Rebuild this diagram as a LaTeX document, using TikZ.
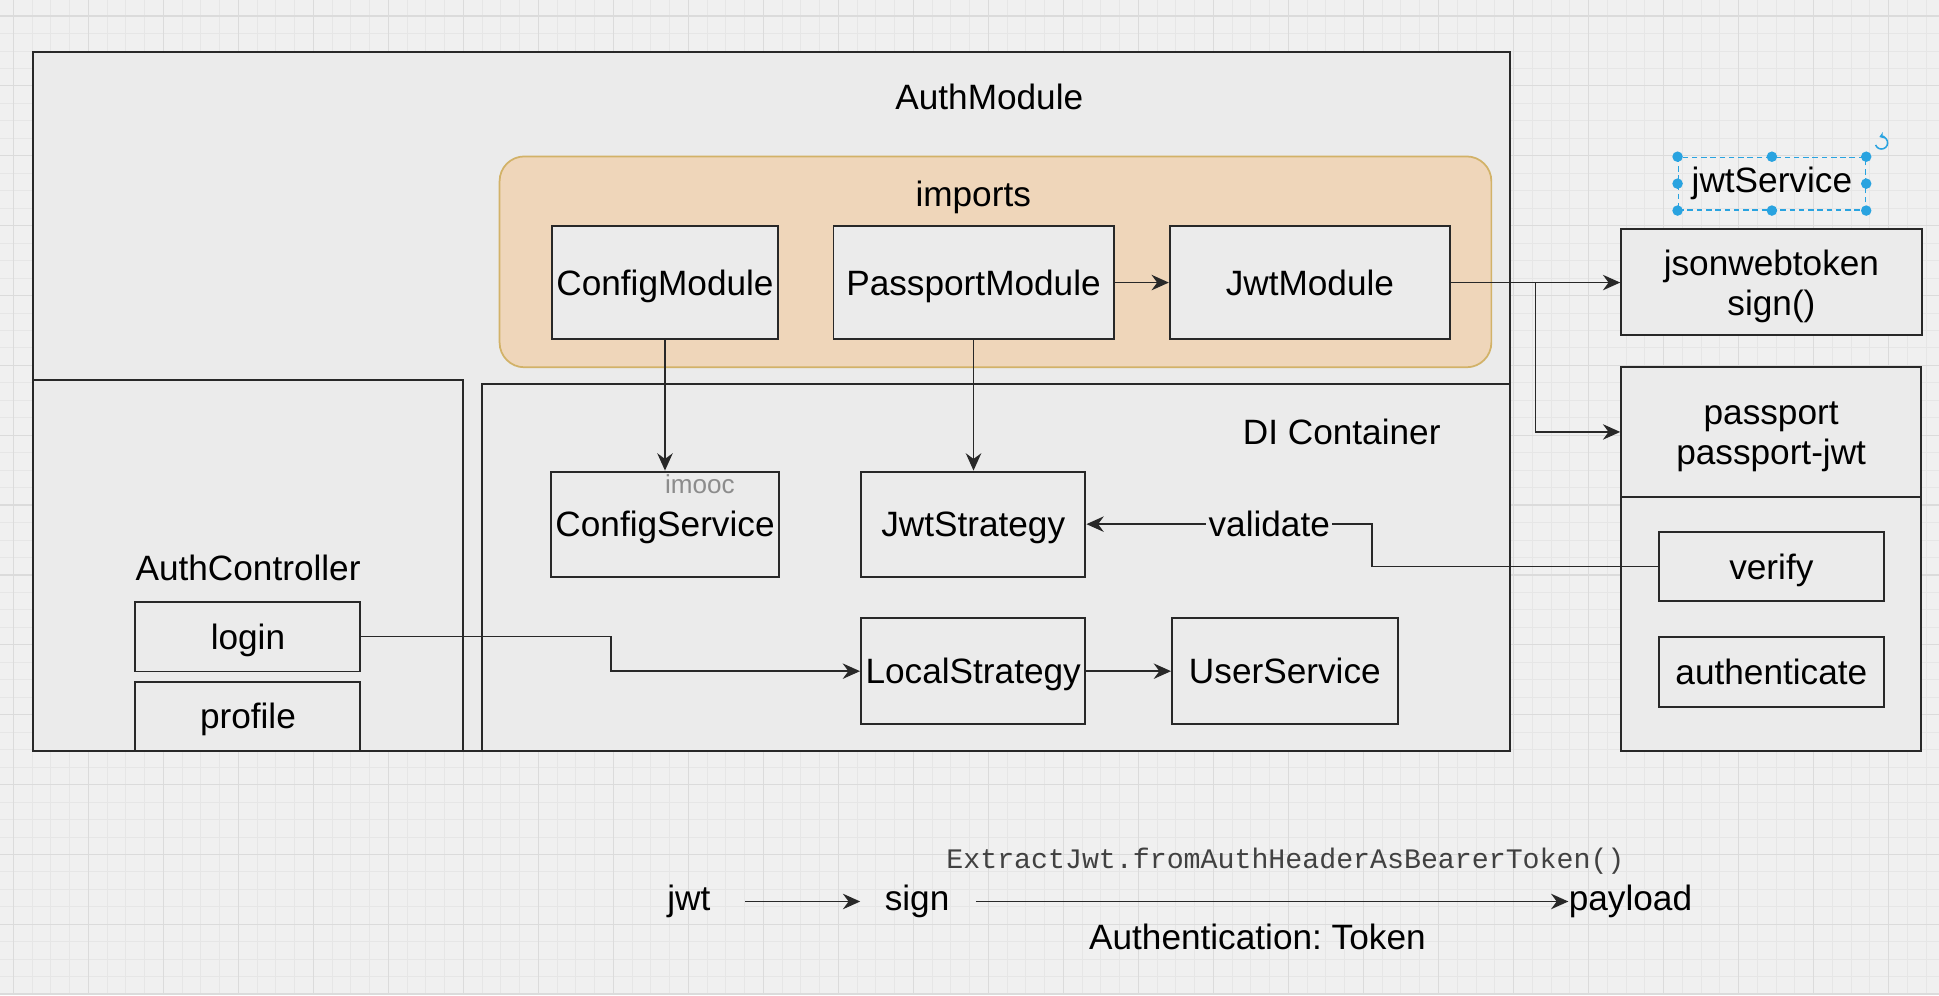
\documentclass[tikz,border=0pt]{standalone}
\usepackage{fontspec}
\setmainfont{Liberation Sans}
\setmonofont{Liberation Mono}
\usepackage{xcolor}
\usepackage{tikz}
\usetikzlibrary{arrows.meta,positioning,calc}
\frenchspacing
\definecolor{inkdark}{RGB}{40,40,40}
\definecolor{paper}{RGB}{240,240,240}
\definecolor{boxfill}{RGB}{235,235,235}
\definecolor{gridminor}{RGB}{230,230,230}
\definecolor{gridmajor}{RGB}{219,219,219}
\definecolor{importfill}{RGB}{239,214,186}
\definecolor{importline}{RGB}{210,178,104}
\definecolor{selblue}{RGB}{41,163,224}
\definecolor{wmgray}{RGB}{140,140,140}
\definecolor{codegray}{RGB}{65,65,65}
\newcommand{\dfont}{\fontsize{16.2pt}{18.2pt}\selectfont}
\tikzset{
  framebox/.style={rectangle, draw=inkdark, line width=0.9pt, fill=boxfill},
  modbox/.style={framebox, align=center, font=\dfont, inner sep=2pt,
                 execute at begin node={\rule{0pt}{0.93em}},
                 execute at end node={\rule[-0.21em]{0pt}{0.21em}}},
  twoline/.style={font=\dfont, align=center, inner sep=0pt, yshift=-0.8mm},
  importsbox/.style={rectangle, rounded corners=4mm, draw=importline,
                     fill=importfill, line width=0.8pt},
  seldash/.style={rectangle, draw=selblue, line width=0.6pt,
                  dash pattern=on 0.9mm off 0.6mm, font=\dfont, inner sep=0pt},
  arr/.style={-{Stealth[length=2.8mm,width=2.5mm]}, line width=0.8pt, draw=inkdark},
  lbl/.style={font=\dfont, inner sep=1pt},
  edgelbl/.style={lbl, fill=boxfill},
  flowtxt/.style={font=\dfont, inner sep=0pt, text height=0.85em, text depth=0pt},
  codetxt/.style={font=\ttfamily\fontsize{13pt}{15pt}\selectfont, text=codegray, inner sep=0pt},
  gminor/.style={draw=gridminor, line width=0.35pt},
  gmajor/.style={draw=gridmajor, line width=0.6pt},
}

\begin{document}
\begin{tikzpicture}[x=0.2mm, y=-0.2mm]
  \useasboundingbox (0,0) rectangle (1568,805);
  % canvas with grid
  \fill[paper] (0,0) rectangle (1568,805);
  \foreach \i in {0,...,103} \draw[gminor] ({10.8+15.1625*\i},0) -- ({10.8+15.1625*\i},805);
  \foreach \j in {0,...,56} \draw[gminor] (0,{12.9+14.125*\j}) -- (1568,{12.9+14.125*\j});
  \foreach \i in {0,...,25} \draw[gmajor] ({10.8+60.65*\i},0) -- ({10.8+60.65*\i},805);
  \foreach \j in {0,...,14} \draw[gmajor] (0,{12.9+56.5*\j}) -- (1568,{12.9+56.5*\j});

  % AuthModule
  \node[framebox, minimum width=238.9mm, minimum height=113mm] (authmod) at (623.75,324.5) {};
  \node[lbl] (authtitle) at (800,78) {AuthModule};

  \node[framebox, minimum width=69.6mm, minimum height=60mm] (authctrl) at (200.5,457) {};
  \node[lbl] (ctrltitle) at (200.6,459) {AuthController};
  \node[modbox, minimum width=36.4mm, minimum height=11.3mm] (login) at (200.5,514.75) {login};
  \node[modbox, minimum width=36.4mm, minimum height=11.14mm] (profile) at (200.5,579.15) {profile};

  \node[framebox, minimum width=166.3mm, minimum height=59.3mm] (dic) at (805.25,458.75) {};
  \node[lbl] (dititle) at (1085,349) {DI Container};

  \node[importsbox, minimum width=160.4mm, minimum height=34.1mm] (imports) at (805,211.75) {};
  \node[lbl] (imptitle) at (787,160) {imports};
  \node[modbox, minimum width=36.3mm, minimum height=18.4mm] (cfgmod) at (537.75,228.5) {ConfigModule};
  \node[modbox, minimum width=45.3mm, minimum height=18.4mm] (passmod) at (787.25,228.5) {PassportModule};
  \node[modbox, minimum width=45.3mm, minimum height=18.4mm] (jwtmod) at (1059.25,228.5) {JwtModule};

  \node[modbox, minimum width=36.3mm, minimum height=17mm] (cfgsvc) at (537.8,423.85) {ConfigService};
  \node[font=\fontsize{12pt}{14pt}\selectfont, text=wmgray, inner sep=0pt] (imooc) at (566,391.7) {imooc};
  \node[modbox, minimum width=36.3mm, minimum height=17mm] (jwtstrat) at (787,423.85) {JwtStrategy};
  \node[modbox, minimum width=36.3mm, minimum height=17.1mm] (localstrat) at (787,542.75) {LocalStrategy};
  \node[modbox, minimum width=36.5mm, minimum height=17.1mm] (usersvc) at (1039,542.75) {UserService};

  % libraries on the right
  \node[seldash, minimum width=30.3mm, minimum height=8.5mm] (jwtsvc) at (1432.85,148.5) {jwtService};
  \foreach \a in {north west,north,north east,east,south east,south,south west,west}
    \fill[selblue] (jwtsvc.\a) circle (0.85mm);
  \coordinate (rotc) at ($(jwtsvc.north east)+(12.3,-11.2)$);
  \draw[selblue, line width=0.7pt, -{Stealth[length=0.8mm,width=1.1mm]}]
    ([shift={(200:1mm)}]rotc) arc[start angle=200, end angle=470, radius=1mm];
  \node[framebox, minimum width=48.6mm, minimum height=17.1mm,
        label={[twoline]center:{jsonwebtoken\\sign()}}] (jsonwt) at (1432.5,227.8) {};
  \node[framebox, minimum width=48.5mm, minimum height=62mm] (passport) at (1432.25,452) {};
  \node[framebox, minimum width=48.5mm, minimum height=20.9mm,
        label={[twoline]center:{passport\\passport-jwt}}] (passhead) at (1432.25,349.3) {};
  \node[modbox, minimum width=36.4mm, minimum height=11.2mm] (verify) at (1432.4,458.1) {verify};
  \node[modbox, minimum width=36.4mm, minimum height=11.3mm] (authn) at (1432.4,543.2) {authenticate};

  % connectors
  \draw[arr] (passmod) -- (jwtmod);
  \draw[arr] (cfgmod.south) -- (cfgmod.south |- cfgsvc.north);
  \draw[arr] (passmod.south) -- (passmod.south |- jwtstrat.north);
  \draw[arr] (localstrat) -- (usersvc);
  \draw[arr] (jwtmod.east) -- (jwtmod.east -| jsonwt.west);
  \coordinate (jwtsplit) at ($(jwtmod.east)!.5!(jsonwt.west)$);
  \draw[arr] (jwtsplit) |- (passhead.west);
  \draw[arr] (login.east) -| ($(login.east)!.5!(localstrat.west)$) |- (localstrat.west);
  \draw[arr] (verify.west) -| ($(verify.west)!.5!(jwtstrat.east)$)
    |- node[edgelbl, pos=0.68] (validate) {validate} (jwtstrat.east);

  % token flow
  \node[flowtxt] (jwt) at (557,729) {jwt};
  \node[flowtxt] (sign) at (741.6,729) {sign};
  \node[flowtxt] (payload) at (1318.5,729) {payload};
  \node[codetxt] (extract) at (1039.5,696.8) {ExtractJwt.fromAuthHeaderAsBearerToken()};
  \node[lbl] (authhdr) at (1016.8,757.5) {Authentication: Token};
  \draw[arr, shorten <=5.6mm, shorten >=3.9mm] (jwt) -- (sign);
  \draw[arr, shorten <=4.2mm] (sign) -- (payload);
\end{tikzpicture}
\end{document}
